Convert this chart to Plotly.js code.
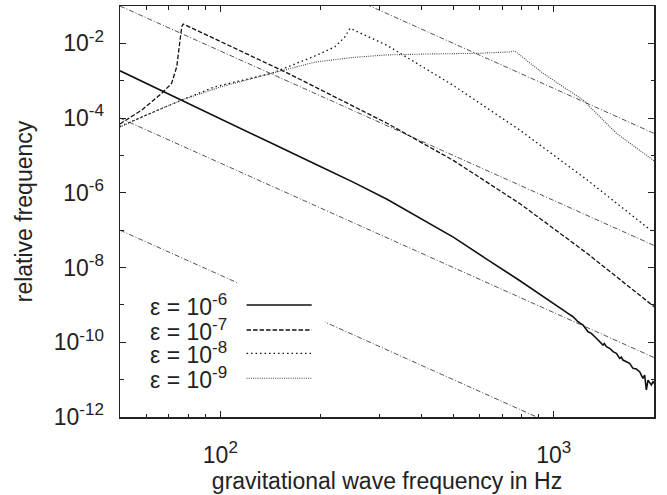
<!DOCTYPE html>
<html>
<head>
<meta charset="utf-8">
<script src="https://cdn.plot.ly/plotly-3.0.1.min.js"></script>
<style>html,body{margin:0;padding:0;background:#fff;}#chart{width:667px;height:495px;}</style>
</head>
<body>
<div id="chart"></div>
<script>
// ε = 1e-6 (solid)
const freqE6 = [50, 76.6, 142.6, 199.5, 251.2, 316.2, 398.1, 501.2, 631, 794.3, 1104, 1143, 1183, 1225, 1268, 1297, 1343, 1406, 1420, 1439, 1472, 1507, 1542, 1578, 1595, 1614, 1652, 1690, 1730, 1770, 1811, 1853, 1875, 1897, 1919, 1941, 1963, 1986, 2000];
const relE6 = [1.85e-3, 3.05e-4, 2.11e-5, 5.06e-6, 1.9e-6, 6.7e-7, 2.09e-7, 6.4e-8, 1.66e-8, 4.37e-9, 5.96e-10, 4.83e-10, 3.55e-10, 2.89e-10, 1.91e-10, 1.73e-10, 1.28e-10, 8.4e-11, 9.2e-11, 7.6e-11, 6.9e-11, 5.6e-11, 5.06e-11, 3.72e-11, 4.0e-11, 3.35e-11, 3.01e-11, 2.73e-11, 2.0e-11, 1.92e-11, 1.63e-11, 1.08e-11, 1.33e-11, 5.3e-12, 9.7e-12, 8.0e-12, 7.2e-12, 8.8e-12, 8.0e-12];
// ε = 1e-7 (dashed)
const freqE7 = [50, 58.1, 66.7, 71.4, 74.0, 75.7, 76.6, 77.4, 158.5, 316.2, 501.2, 794.3, 1259, 2000];
const relE7 = [6.95e-5, 1.64e-4, 4.6e-4, 8.5e-4, 2.37e-3, 1.0e-2, 2.79e-2, 3.3e-2, 1.63e-3, 7.28e-5, 7.28e-6, 5.04e-7, 2.41e-8, 9.0e-10];
// ε = 1e-8 (dotted)
const freqE8 = [50, 60, 76.6, 96.4, 142.6, 192.3, 220.8, 236.6, 244.9, 316.2, 501.2, 794.3, 1259, 2000];
const relE8 = [6.0e-5, 1.2e-4, 3.05e-4, 6.9e-4, 1.58e-3, 4.6e-3, 8.1e-3, 1.5e-2, 2.53e-2, 8.87e-3, 7.38e-4, 4.66e-5, 2.23e-6, 8.5e-8];
// ε = 1e-9 (fine dotted)
const freqE9 = [50, 60, 76.6, 100, 142.6, 192.3, 250, 315.5, 420, 586, 740, 764, 929, 1225, 1542, 2000];
const relE9 = [5.75e-5, 1.21e-4, 3.05e-4, 6.8e-4, 1.58e-3, 3.16e-3, 4.2e-3, 4.9e-3, 5.2e-3, 5.4e-3, 5.9e-3, 6.25e-3, 1.58e-3, 3.05e-4, 3.92e-5, 7.2e-6];
// f^-4 reference lines (dash-dot)
const freqRef = [50, 2000];
const refA = [1e2, 3.91e-5];
const refB = [1e-1, 3.91e-8];
const refC = [1e-4, 3.91e-11];
const refD = [1e-7, 3.91e-14];
// ticks and labels
const SUP = s => '10<sup><span style="font-size:17px">' + s + '</span></sup>';
const xTickVals = [100, 1000];
const xTickText = [SUP('2'), SUP('3')];
const xMinor = [60, 70, 80, 90, 200, 300, 400, 500, 600, 700, 800, 900];
const yTickVals = [1e-12, 1e-10, 1e-8, 1e-6, 1e-4, 1e-2];
const yTickText = [SUP('-12'), SUP('-10'), SUP('-8'), SUP('-6'), SUP('-4'), SUP('-2')];
const yMinor = [1e-11, 1e-9, 1e-7, 1e-5, 1e-3];
const legendExp = ['-6', '-7', '-8', '-9'];

const FONT = '"Liberation Sans", Arial, Helvetica, sans-serif';
const FS = 23;
const dashDot = {color: '#333', width: 0.85, dash: '5px,2px,1px,2px'};
const styles = [
  {color: '#111', width: 1.6, dash: 'solid'},
  {color: '#111', width: 1.3, dash: '4.5px,2px'},
  {color: '#111', width: 1.3, dash: '1.5px,3px'},
  {color: '#444', width: 1.1, dash: '1px,1.2px'}
];

const traces = [];
[refA, refB, refC, refD].forEach(r => traces.push({x: freqRef, y: r, mode: 'lines', line: dashDot, showlegend: false, hoverinfo: 'skip'}));
const series = [[freqE6, relE6], [freqE7, relE7], [freqE8, relE8], [freqE9, relE9]];
series.forEach((s, i) => traces.push({x: s[0], y: s[1], mode: 'lines', line: styles[i], showlegend: false}));

// legend drawn as an opaque key inside the plot
const rowY = [0.2725, 0.2117, 0.1550, 0.0942];
const shapes = [{type: 'rect', xref: 'paper', yref: 'paper', x0: 0.035, x1: 0.384, y0: 0.04, y1: 0.326, fillcolor: '#fff', line: {width: 0}, layer: 'above'}];
const annotations = [];
rowY.forEach((yy, i) => {
  shapes.push({type: 'line', xref: 'paper', yref: 'paper', x0: 0.237, x1: 0.359, y0: yy, y1: yy, line: styles[i], layer: 'above'});
  annotations.push({xref: 'paper', yref: 'paper', x: 0.053, y: yy, xanchor: 'left', yanchor: 'middle',
    text: 'ε = ' + SUP(legendExp[i]), showarrow: false, font: {family: FONT, size: FS, color: '#222'}});
});

const axisCommon = {
  type: 'log', showgrid: false, zeroline: false, showline: true, linecolor: '#222', linewidth: 1.5,
  mirror: 'ticks', ticks: 'inside', ticklen: 6, tickwidth: 1, tickcolor: '#222',
  tickfont: {family: FONT, size: FS, color: '#222'}, tickmode: 'array'
};

const layout = {
  width: 667, height: 495,
  margin: {l: 120, r: 13, t: 6, b: 78},
  paper_bgcolor: '#fff', plot_bgcolor: '#fff',
  showlegend: false,
  xaxis: Object.assign({}, axisCommon, {
    range: [Math.log10(50), Math.log10(2000)],
    tickvals: xTickVals, ticktext: xTickText, ticklabelstandoff: 17,
    minor: {tickmode: 'array', tickvals: xMinor, ticks: 'inside', ticklen: 3.5, tickcolor: '#222', tickwidth: 1},
    title: {text: 'gravitational wave frequency in Hz', font: {family: FONT, size: FS, color: '#222'}, standoff: 4}
  }),
  yaxis: Object.assign({}, axisCommon, {
    range: [-12, -1],
    tickvals: yTickVals, ticktext: yTickText, ticklabelstandoff: 10,
    minor: {tickmode: 'array', tickvals: yMinor, ticks: 'inside', ticklen: 3.5, tickcolor: '#222', tickwidth: 1},
    title: {text: 'relative frequency', font: {family: FONT, size: FS, color: '#222'}, standoff: 14}
  }),
  shapes: shapes,
  annotations: annotations
};

Plotly.newPlot('chart', traces, layout, {displayModeBar: false, staticPlot: true});
</script>
</body>
</html>
